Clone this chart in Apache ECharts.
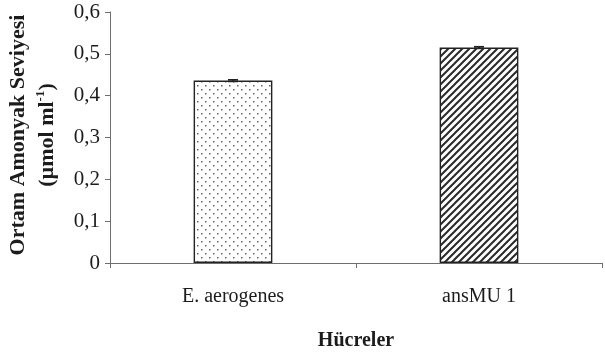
<!DOCTYPE html>
<html>
<head>
<meta charset="utf-8">
<script src="https://cdn.jsdelivr.net/npm/echarts@6/dist/echarts.min.js"></script>
<style>
  html, body { margin: 0; padding: 0; background: #fff; }
  #chart { width: 605px; height: 353px; }
</style>
</head>
<body>
<div id="chart"></div>
<script>
// Cells and their mean ammonia levels (µmol ml-1) with standard errors
const categories = ['E. aerogenes', 'ansMU 1'];
const meanValues = [0.436, 0.515];
const errorValues = [0.002, 0.002];
const yTicks = { min: 0, max: 0.6, interval: 0.1 };
const yTitleLines = ['Ortam Amonyak Seviyesi', '(µmol ml', '-1', ')'];
const xTitle = 'Hücreler';

const serif = 'Liberation Serif, Times New Roman, serif';
const ink = '#1c1c1c';
const axisGray = '#6e6e6e';

// Fill patterns: stippled dots and diagonal hatching
function dotPattern() {
  const c = document.createElement('canvas');
  c.width = 8; c.height = 8;
  const g = c.getContext('2d');
  g.fillStyle = '#ffffff';
  g.fillRect(0, 0, 8, 8);
  g.fillStyle = '#666666';
  g.fillRect(1, 1, 1.5, 1.5);
  g.fillRect(5, 5, 1.5, 1.5);
  return c;
}
function hatchPattern() {
  const s = 7;
  const c = document.createElement('canvas');
  c.width = s; c.height = s;
  const g = c.getContext('2d');
  g.fillStyle = '#ffffff';
  g.fillRect(0, 0, s, s);
  g.strokeStyle = '#2a2a2a';
  g.lineWidth = 2;
  g.beginPath();
  g.moveTo(-1, s + 1); g.lineTo(s + 1, -1);
  g.moveTo(-1, 1); g.lineTo(1, -1);
  g.moveTo(s - 1, s + 1); g.lineTo(s + 1, s - 1);
  g.stroke();
  return c;
}
const fills = [
  { image: dotPattern(), repeat: 'repeat' },
  { image: hatchPattern(), repeat: 'repeat' }
];

const chart = echarts.init(document.getElementById('chart'), null, { renderer: 'canvas' });

chart.setOption({
  animation: false,
  backgroundColor: '#ffffff',
  grid: { left: 110, right: 3, top: 12, bottom: 90, outerBoundsMode: 'none', containLabel: false },
  // Rotated two-line y-axis title with a superscript unit exponent
  graphic: [
    {
      type: 'text',
      x: 18, y: 135,
      rotation: Math.PI / 2,
      style: {
        text: yTitleLines[0],
        font: 'bold 22px ' + serif,
        fill: ink,
        align: 'center',
        verticalAlign: 'middle'
      }
    },
    {
      type: 'text',
      x: 47, y: 135,
      rotation: Math.PI / 2,
      style: {
        text: '{t|' + yTitleLines[1] + '}{s|' + yTitleLines[2] + '}{t|' + yTitleLines[3] + '}',
        align: 'center',
        verticalAlign: 'middle',
        rich: {
          t: { fontFamily: serif, fontWeight: 'bold', fontSize: 22, fill: ink, lineHeight: 26 },
          s: { fontFamily: serif, fontWeight: 'bold', fontSize: 13, fill: ink, lineHeight: 26, verticalAlign: 'top', padding: [0, 0, 10, 0] }
        }
      }
    }
  ],
  xAxis: {
    type: 'category',
    data: categories,
    name: xTitle,
    nameLocation: 'middle',
    nameGap: 68,
    nameTextStyle: { fontFamily: serif, fontWeight: 'bold', fontSize: 20, color: ink },
    axisLine: { lineStyle: { color: axisGray, width: 1 } },
    axisTick: { show: true, length: 5, lineStyle: { color: axisGray } },
    axisLabel: { fontFamily: serif, fontSize: 20, color: ink, margin: 24 }
  },
  yAxis: {
    type: 'value',
    min: yTicks.min,
    max: yTicks.max,
    interval: yTicks.interval,
    splitLine: { show: false },
    axisLine: { show: true, lineStyle: { color: axisGray, width: 1 } },
    axisTick: { show: true, length: 5, lineStyle: { color: axisGray } },
    axisLabel: {
      fontFamily: serif, fontSize: 21, color: ink, margin: 10,
      formatter: v => (Math.round(v * 10) / 10).toString().replace('.', ',')
    }
  },
  series: [
    {
      type: 'bar',
      barWidth: '32%',
      data: meanValues.map((v, i) => ({
        value: v,
        itemStyle: { color: fills[i], borderColor: '#222222', borderWidth: 1.4 }
      }))
    },
    {
      type: 'custom',
      data: meanValues.map((v, i) => [i, v - errorValues[i], v + errorValues[i]]),
      renderItem: (params, api) => {
        const lo = api.coord([api.value(0), api.value(1)]);
        const hi = api.coord([api.value(0), api.value(2)]);
        const half = 5;
        const style = { stroke: '#222222', lineWidth: 1.6, fill: null };
        return {
          type: 'group',
          children: [
            { type: 'line', shape: { x1: hi[0], y1: hi[1], x2: lo[0], y2: lo[1] }, style },
            { type: 'line', shape: { x1: hi[0] - half, y1: hi[1], x2: hi[0] + half, y2: hi[1] }, style },
            { type: 'line', shape: { x1: lo[0] - half, y1: lo[1], x2: lo[0] + half, y2: lo[1] }, style }
          ]
        };
      },
      z: 5
    }
  ]
});
</script>
</body>
</html>
